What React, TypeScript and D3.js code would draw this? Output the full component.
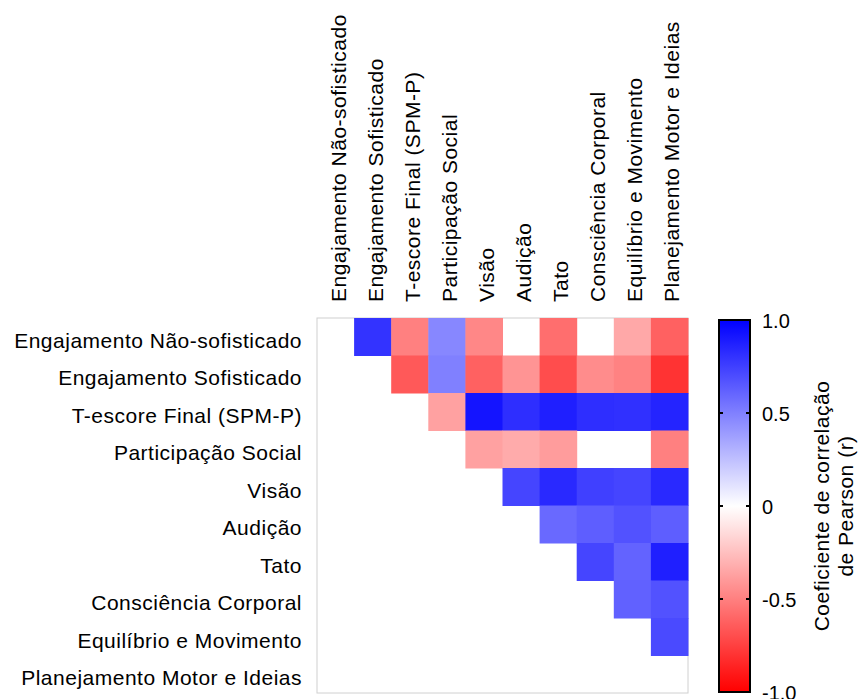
import React from 'react';
import * as d3 from 'd3';

// variable names (rows and columns are the same list)
const labels = [
  'Engajamento Não-sofisticado',
  'Engajamento Sofisticado',
  'T-escore Final (SPM-P)',
  'Participação Social',
  'Visão',
  'Audição',
  'Tato',
  'Consciência Corporal',
  'Equilíbrio e Movimento',
  'Planejamento Motor e Ideias',
];

// upper triangle of Pearson r, null = not shown (white)
const rowEngNao = [null, 0.80, -0.50, 0.47, -0.47, null, -0.57, null, -0.34, -0.62];
const rowEngSof = [null, null, -0.65, 0.50, -0.62, -0.42, -0.70, -0.45, -0.49, -0.80];
const rowTescore = [null, null, null, -0.37, 0.92, 0.82, 0.88, 0.82, 0.81, 0.86];
const rowPartSoc = [null, null, null, null, -0.37, -0.33, -0.39, null, null, -0.50];
const rowVisao = [null, null, null, null, null, 0.73, 0.84, 0.75, 0.73, 0.84];
const rowAudicao = [null, null, null, null, null, null, 0.59, 0.63, 0.68, 0.63];
const rowTato = [null, null, null, null, null, null, null, 0.73, 0.61, 0.88];
const rowConsc = [null, null, null, null, null, null, null, null, 0.62, 0.68];
const rowEquil = [null, null, null, null, null, null, null, null, null, 0.71];
const rowPlan = [null, null, null, null, null, null, null, null, null, null];

const matrix = [rowEngNao, rowEngSof, rowTescore, rowPartSoc, rowVisao, rowAudicao, rowTato, rowConsc, rowEquil, rowPlan];

const colorTicks = [1, 0.5, 0, -0.5, -1];
const colorTickLabels = ['1.0', '0.5', '0', '-0.5', '-1.0'];

const FONT = '"Liberation Sans", Arial, sans-serif';

const App = () => {
  const W = 859;
  const H = 699;

  const x = d3.scaleBand<string>().domain(labels).range([317, 688]);
  const y = d3.scaleBand<string>().domain(labels).range([318, 693]);

  const color = d3.scaleLinear<string>()
    .domain([-1, 0, 1])
    .range(['#ff0000', '#ffffff', '#0000ff'])
    .interpolate(d3.interpolateRgb);

  // colour bar
  const cbX = 719;
  const cbW = 31;
  const cbY = d3.scaleLinear().domain([-1, 1]).range([692, 320]);
  const stops = d3.range(-1, 1.0001, 0.1);

  const cells: { r: number; c: number; v: number | null }[] = [];
  matrix.forEach((row, r) => row.forEach((v, c) => cells.push({ r, c, v })));

  return (
    <svg width={W} height={H} style={{ position: 'absolute', left: 0, top: 0, background: '#fff' }} fontFamily={FONT}>
      <defs>
        <linearGradient id="cbgrad" x1="0" y1="1" x2="0" y2="0">
          {stops.map((s, i) => (
            <stop key={i} offset={(s + 1) / 2} stopColor={color(s)} />
          ))}
        </linearGradient>
      </defs>

      {/* matrix background + frame */}
      <rect x={317} y={318} width={688 - 317} height={693 - 318} fill="#fff" stroke="#d0d0d0" strokeWidth={1} />

      {cells.filter(d => d.v !== null).map(d => (
        <rect
          key={`${d.r}-${d.c}`}
          x={x(labels[d.c])}
          y={y(labels[d.r])}
          width={x.bandwidth() + 0.5}
          height={y.bandwidth() + 0.5}
          fill={color(d.v as number)}
        />
      ))}

      {/* row labels */}
      {labels.map(l => (
        <text
          key={'r' + l}
          x={302}
          y={(y(l) as number) + y.bandwidth() / 2}
          dy={11}
          textAnchor="end"
          fontSize={21}
          letterSpacing={0.5}
          fill="#000"
        >
          {l}
        </text>
      ))}

      {/* column labels, rotated */}
      {labels.map(l => {
        const cx = (x(l) as number) + x.bandwidth() / 2 + 10;
        return (
          <text
            key={'c' + l}
            transform={`translate(${cx},302) rotate(-90)`}
            textAnchor="start"
            fontSize={21}
            letterSpacing={0.5}
            fill="#000"
          >
            {l}
          </text>
        );
      })}

      {/* colour bar */}
      <rect x={cbX} y={cbY(1)} width={cbW} height={cbY(-1) - cbY(1)} fill="url(#cbgrad)" stroke="#000" strokeWidth={2} />
      {colorTicks.map((t, i) => (
        <g key={'t' + t}>
          {Math.abs(t) < 1 && (
            <>
              <line x1={cbX} x2={cbX + 4} y1={cbY(t)} y2={cbY(t)} stroke="#000" strokeWidth={2} />
              <line x1={cbX + cbW - 4} x2={cbX + cbW} y1={cbY(t)} y2={cbY(t)} stroke="#000" strokeWidth={2} />
            </>
          )}
          <text x={762} y={cbY(t)} dy={7.5} fontSize={20} fill="#000">
            {colorTickLabels[i]}
          </text>
        </g>
      ))}

      <text transform={`translate(829,${cbY(0)}) rotate(-90)`} textAnchor="middle" fontSize={21} letterSpacing={0.5} fill="#000">
        Coeficiente de correlação
      </text>
      <text transform={`translate(853,${cbY(0)}) rotate(-90)`} textAnchor="middle" fontSize={21} letterSpacing={0.5} fill="#000">
        de Pearson (r)
      </text>
    </svg>
  );
};

export default App;
